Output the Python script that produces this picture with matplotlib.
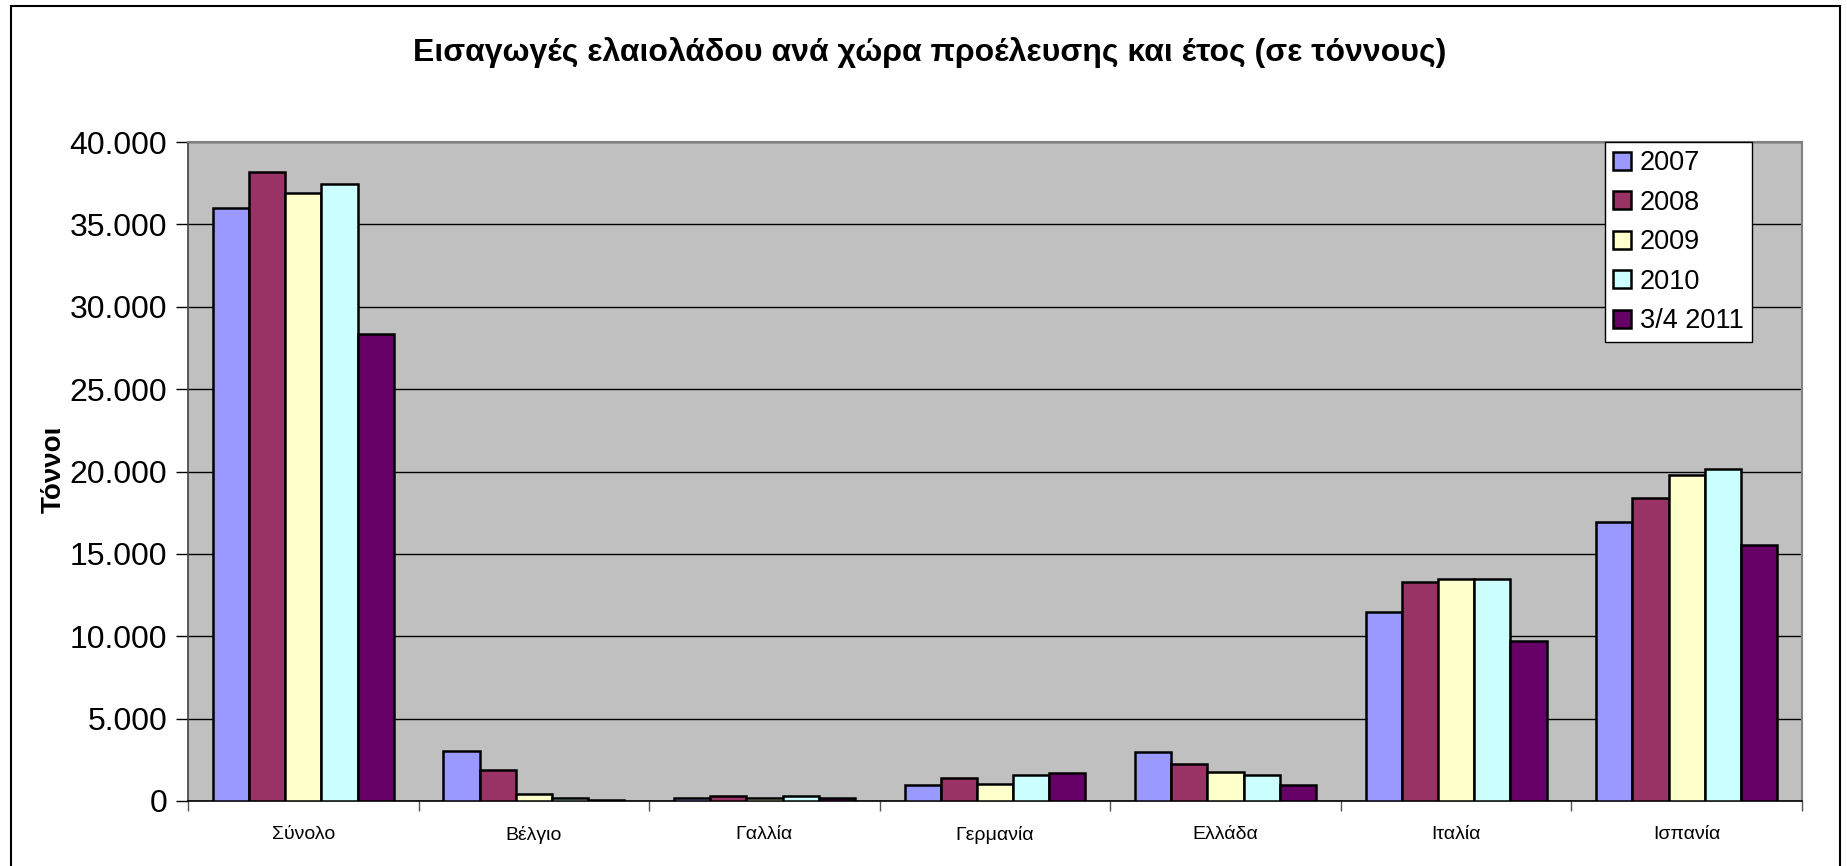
import matplotlib
matplotlib.use("Agg")
import matplotlib.pyplot as plt
import numpy as np
from matplotlib.patches import Rectangle

plt.rcParams['font.family'] = ['Liberation Sans', 'DejaVu Sans']

categories = ["Σύνολο", "Βέλγιο", "Γαλλία", "Γερμανία", "Ελλάδα", "Ιταλία", "Ισπανία"]
series_labels = ["2007", "2008", "2009", "2010", "3/4 2011"]
v2007 = [36000, 3050, 160, 980, 3000, 11450, 16950]
v2008 = [38150, 1890, 290, 1420, 2240, 13300, 18400]
v2009 = [36920, 450, 200, 1040, 1730, 13450, 19780]
v2010 = [37440, 200, 290, 1570, 1600, 13500, 20180]
v2011 = [28350, 50, 200, 1690, 980, 9700, 15540]
series = [v2007, v2008, v2009, v2010, v2011]
colors = ["#9999FF", "#993366", "#FFFFCC", "#CCFFFF", "#660066"]

W, H = 1847, 866
fig = plt.figure(figsize=(W / 100, H / 100), dpi=100)
fig.patch.set_facecolor("white")

# outer chart border
fig.add_artist(Rectangle((11 / W, -0.01), (1840 - 11) / W, 1 - 6 / H + 0.01,
                         transform=fig.transFigure, fill=False,
                         edgecolor="black", linewidth=1.5))

ax = fig.add_axes([188 / W, 65 / H, (1802 - 188) / W, (801 - 142) / H])
ax.set_facecolor("#C0C0C0")

n = len(series)
bw = 0.157
x = np.arange(len(categories))
for i, (vals, col, lab) in enumerate(zip(series, colors, series_labels)):
    offs = (i - (n - 1) / 2) * bw
    ax.bar(x + offs, vals, width=bw, color=col, edgecolor="black",
           linewidth=1.8, label=lab, zorder=3)

ax.set_xlim(-0.5, len(categories) - 0.5)
ax.set_ylim(0, 40000)
ax.set_yticks(np.arange(0, 40001, 5000))
ax.set_yticklabels([f"{v:,.0f}".replace(",", ".") for v in np.arange(0, 40001, 5000)],
                   fontsize=23)
ax.yaxis.grid(True, color="black", linewidth=1.0, zorder=1)
ax.set_axisbelow(True)

ax.set_xticks(x)
ax.set_xticklabels(categories, fontsize=14)
ax.tick_params(axis="x", length=0, pad=18)
ax.set_xticks(np.arange(-0.5, len(categories) + 0.5, 1), minor=True)
ax.tick_params(axis="x", which="minor", length=7, width=1, color="#555555")
ax.tick_params(axis="y", length=9, width=1, pad=6)

for s in ["top", "right"]:
    ax.spines[s].set_color("#808080")
    ax.spines[s].set_linewidth(1.5)
ax.spines["left"].set_color("#404040")
ax.spines["bottom"].set_color("black")
ax.spines["left"].set_linewidth(1.2)
ax.spines["bottom"].set_linewidth(1.2)

fig.text(54 / W, 1 - 469 / H, "Τόννοι", rotation=90, fontsize=20,
         fontweight="bold", ha="center", va="center")
fig.text(930 / W, 1 - 53 / H,
         "Εισαγωγές ελαιολάδου ανά χώρα προέλευσης και έτος (σε τόννους)",
         fontsize=23, fontweight="bold", ha="center", va="center")

leg = ax.legend(loc="upper right", bbox_to_anchor=((1752 - 188) / (1802 - 188), 1.0),
                fontsize=19.5, frameon=True, fancybox=False, edgecolor="black",
                framealpha=1, handlelength=0.65, handleheight=0.65,
                handletextpad=0.35, labelspacing=0.5, borderpad=0.3,
                borderaxespad=0)
leg.get_frame().set_linewidth(1.0)

fig.savefig("out.png", dpi=100)
